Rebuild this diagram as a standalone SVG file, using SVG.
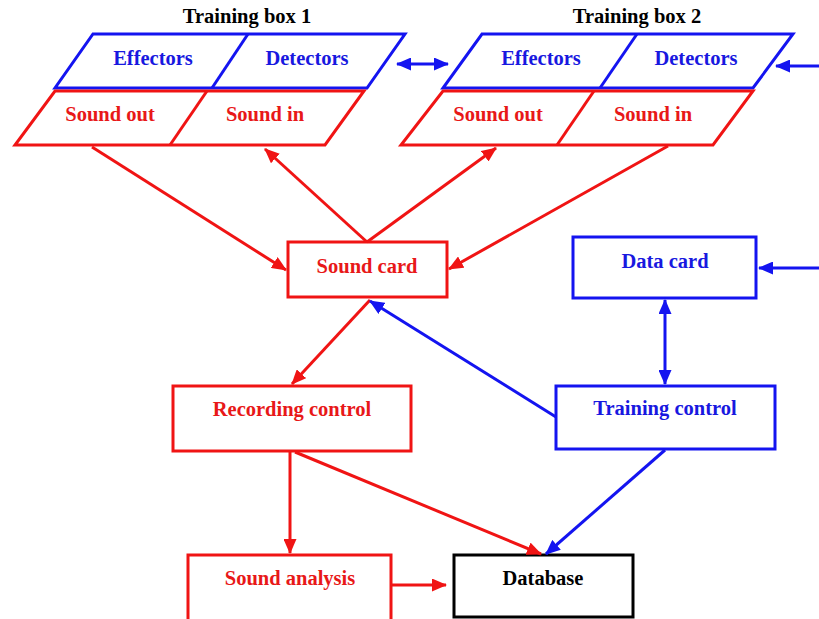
<svg xmlns="http://www.w3.org/2000/svg" width="819" height="619" viewBox="0 0 819 619">
<style>
text{font-family:"Liberation Serif","Times New Roman",serif;font-weight:bold;font-size:20.5px;text-anchor:middle}
.r{fill:none;stroke:#f01414;stroke-width:3}
.b{fill:none;stroke:#1414f0;stroke-width:3}
.k{fill:none;stroke:#000;stroke-width:3}
.tr{fill:#e81818}
.tb{fill:#1818e0}
.tk{fill:#000}
</style>
<defs>
<marker id="ar" markerUnits="userSpaceOnUse" markerWidth="15" markerHeight="13" refX="14" refY="6.5" orient="auto-start-reverse" viewBox="0 0 15 13"><path d="M0,0 L15,6.5 L0,13 z" fill="#f01414"/></marker>
<marker id="ab" markerUnits="userSpaceOnUse" markerWidth="15" markerHeight="13" refX="14" refY="6.5" orient="auto-start-reverse" viewBox="0 0 15 13"><path d="M0,0 L15,6.5 L0,13 z" fill="#1414f0"/></marker>
</defs>
<rect width="819" height="619" fill="#fff"/>

<g id="box1">
<text class="tk" x="247" y="23">Training box 1</text>
<polygon class="b" points="93,34 405,34 367,88 55,88"/>
<line class="b" x1="248" y1="34" x2="212" y2="88"/>
<text class="tb" x="153" y="65">Effectors</text>
<text class="tb" x="307" y="65">Detectors</text>
<polygon class="r" points="55,91 364,91 325,145 15,145"/>
<line class="r" x1="207" y1="91" x2="170" y2="145"/>
<text class="tr" x="110" y="121">Sound out</text>
<text class="tr" x="265" y="121">Sound in</text>
</g>

<g id="box2">
<text class="tk" x="637" y="23">Training box 2</text>
<polygon class="b" points="482,34 793,34 753,88 443,88"/>
<line class="b" x1="637" y1="34" x2="600" y2="88"/>
<text class="tb" x="541" y="65">Effectors</text>
<text class="tb" x="696" y="65">Detectors</text>
<polygon class="r" points="443,91 753,91 713,145 401,145"/>
<line class="r" x1="594" y1="91" x2="557" y2="145"/>
<text class="tr" x="498" y="121">Sound out</text>
<text class="tr" x="653" y="121">Sound in</text>
</g>

<g id="soundcard">
<rect class="r" x="288" y="242" width="159" height="55"/>
<text class="tr" x="367" y="273">Sound card</text>
</g>

<g id="datacard">
<rect class="b" x="573" y="237" width="183" height="61"/>
<text class="tb" x="665" y="268">Data card</text>
</g>

<g id="recording">
<rect class="r" x="173" y="386" width="238" height="65"/>
<text class="tr" x="292" y="416">Recording control</text>
</g>

<g id="training">
<rect class="b" x="556" y="386" width="219" height="63"/>
<text class="tb" x="665" y="415">Training control</text>
</g>

<g id="analysis">
<rect class="r" x="188" y="555" width="203" height="66"/>
<text class="tr" x="290" y="585">Sound analysis</text>
</g>

<g id="database">
<rect class="k" x="454" y="555" width="179" height="62"/>
<text class="tk" x="543" y="585">Database</text>
</g>

<g id="connectors">
<line class="r" x1="92" y1="147" x2="286" y2="270" marker-end="url(#ar)"/>
<line class="r" x1="367" y1="242" x2="265" y2="149" marker-end="url(#ar)"/>
<line class="r" x1="367" y1="242" x2="496" y2="148" marker-end="url(#ar)"/>
<line class="r" x1="668" y1="146" x2="449" y2="269" marker-end="url(#ar)"/>
<line class="r" x1="370" y1="300" x2="292" y2="384" marker-end="url(#ar)"/>
<line class="r" x1="290" y1="452" x2="290" y2="553" marker-end="url(#ar)"/>
<line class="r" x1="295" y1="452" x2="541" y2="554" marker-end="url(#ar)"/>
<line class="r" x1="391" y1="585" x2="446" y2="585" marker-end="url(#ar)"/>
<line class="b" x1="397" y1="64" x2="448" y2="64" marker-start="url(#ab)" marker-end="url(#ab)"/>
<line class="b" x1="819" y1="66" x2="776" y2="66" marker-end="url(#ab)"/>
<line class="b" x1="819" y1="268" x2="759" y2="268" marker-end="url(#ab)"/>
<line class="b" x1="665" y1="300" x2="665" y2="384" marker-start="url(#ab)" marker-end="url(#ab)"/>
<line class="b" x1="556" y1="417" x2="370" y2="301" marker-end="url(#ab)"/>
<line class="b" x1="665" y1="450" x2="546" y2="554" marker-end="url(#ab)"/>
</g>
</svg>
